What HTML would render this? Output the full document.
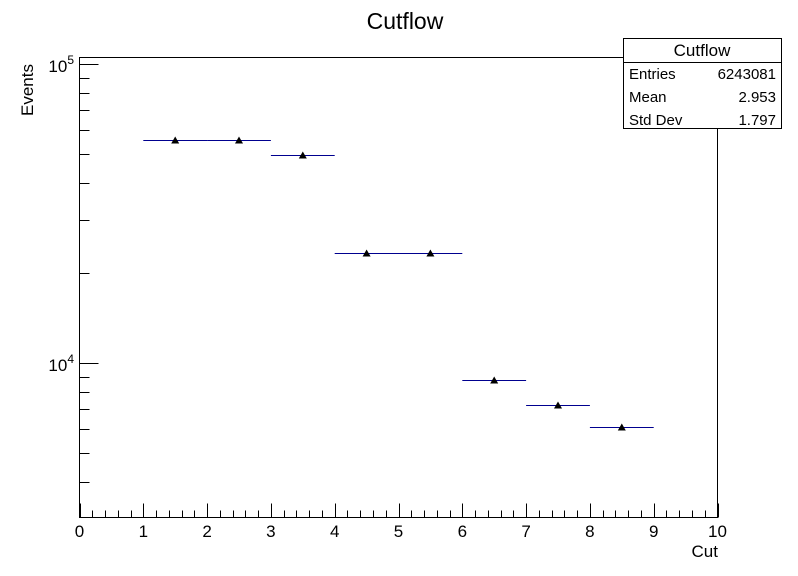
<!DOCTYPE html>
<html><head><meta charset="utf-8"><style>
body{margin:0;background:#fff}
svg{display:block;font-family:"Liberation Sans",sans-serif}
</style></head><body>
<svg id="chart" width="798" height="576" viewBox="0 0 798 576">
<rect width="798" height="576" fill="#fff"/>
<text x="405" y="29" font-size="23" text-anchor="middle">Cutflow</text>
<rect x="79.5" y="57.5" width="638" height="460" fill="none" stroke="#000" stroke-width="1"/>
<g id="xaxis"></g>
<g id="yaxis"></g>
<g id="marks"></g>
<text x="718" y="557" font-size="17" text-anchor="end">Cut</text>
<text transform="translate(33,116) rotate(-90)" font-size="17" text-anchor="start">Events</text>
<g>
<rect x="623.5" y="38.5" width="158" height="90" fill="#fff" stroke="#000"/>
<line x1="623" y1="62.5" x2="782" y2="62.5" stroke="#000"/>
<text x="702" y="56" font-size="17" text-anchor="middle">Cutflow</text>
<text x="629" y="79" font-size="15">Entries</text>
<text x="776" y="79" font-size="15" text-anchor="end">6243081</text>
<text x="629" y="102" font-size="15">Mean</text>
<text x="776" y="102" font-size="15" text-anchor="end">2.953</text>
<text x="629" y="125" font-size="15">Std Dev</text>
<text x="776" y="125" font-size="15" text-anchor="end">1.797</text>
</g>
</svg>
<script>
const binLow = [1, 2, 3, 4, 5, 6, 7, 8];
const binHigh = [2, 3, 4, 5, 6, 7, 8, 9];
const counts = [55700, 55700, 49600, 23300, 23300, 8770, 7230, 6110];
const xTickLabels = ["0","1","2","3","4","5","6","7","8","9","10"];
const yMajorExp = [4, 5];

const NS = "http://www.w3.org/2000/svg";
const X0 = 79.5, X1 = 717.5, Y0 = 517.5, Y1 = 57;
const xMin = 0, xMax = 10;
const y4px = 363, decadePx = 299;
function xs(v){ return X0 + (v - xMin) / (xMax - xMin) * (X1 - X0); }
function ys(v){ return y4px - (Math.log10(v) - 4) * decadePx; }
function mk(tag, attrs, parent){ const e = document.createElementNS(NS, tag); for (const k in attrs) e.setAttribute(k, attrs[k]); parent.appendChild(e); return e; }

const xa = document.getElementById('xaxis');
for (let i = 0; i <= 50; i++) {
  const v = i * 0.2, x = Math.round(xs(v)) + 0.5, major = i % 5 === 0;
  const t = mk('line', {x1:x, x2:x, y1:Y0, y2:Y0 - (major ? 14 : 7), stroke:'#000'}, xa);
  
  
}
xTickLabels.forEach((lab, i) => {
  const t = mk('text', {x: xs(i), y: 537, 'font-size': 17, 'text-anchor': 'middle'}, xa);
  t.textContent = lab;
  
  
});

const ya = document.getElementById('yaxis');
for (let e = 3; e <= 5; e++) {
  for (let m = 1; m <= 9; m++) {
    const v = m * Math.pow(10, e), y = Math.round(ys(v)) + 0.5;
    if (y > Y0 || y < Y1) continue;
    const major = m === 1;
    const t = mk('line', {x1:X0, x2:X0 + (major ? 19 : 10), y1:y, y2:y, stroke:'#000'}, ya);
    
    
  }
}
yMajorExp.forEach(e => {
  const y = ys(Math.pow(10, e));
  const t = mk('text', {x: 74, y: y + 8, 'font-size': 17, 'text-anchor': 'end'}, ya);
  t.innerHTML = '10<tspan dy="-8" font-size="12">' + e + '</tspan>';
  
  
});

const mg = document.getElementById('marks');
counts.forEach((c, i) => {
  const y = Math.round(ys(c)) + 0.5, xl = xs(binLow[i]), xh = xs(binHigh[i]), xc = (xl + xh) / 2;
  const l = mk('line', {x1:xl, x2:xh, y1:y, y2:y, stroke:'#00008f', 'stroke-width':1}, mg);
  
  
  const p = mk('polygon', {points: `${xc-4},${y+3} ${xc+4},${y+3} ${xc},${y-4}`, fill:'#000'}, mg);
  
  
});
</script>
</body></html>
